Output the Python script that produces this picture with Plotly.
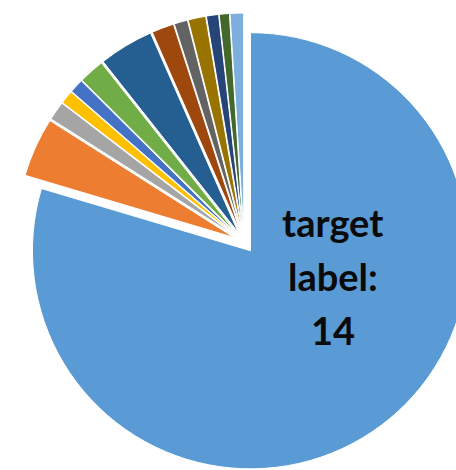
import plotly.graph_objects as go

# Slice data (share of total, clockwise from 12 o'clock)
labels = ["14", "0", "1", "2", "3", "4", "5", "6", "7", "8", "9", "10", "11"]
values = [79.6, 4.4, 1.4, 1.0, 1.05, 1.9, 4.05, 1.65, 1.0, 1.3, 0.9, 0.75, 1.0]
colors = ["#5B9BD5", "#ED7D31", "#A5A5A5", "#FFC000", "#4472C4", "#70AD47",
          "#255E91", "#9E480E", "#636363", "#997300", "#264478", "#43682B",
          "#7CAFDD"]
text_lines = ["target", "label:", "14"]

W, H = 473, 471

fig = go.Figure(go.Pie(
    labels=labels,
    values=values,
    sort=False,
    direction="clockwise",
    rotation=0,
    pull=0.05,
    marker=dict(colors=colors, line=dict(color="white", width=1)),
    textinfo="none",
    hoverinfo="label+percent",
    showlegend=False,
    domain=dict(x=[15 / W, 1], y=[0, 1 - 13 / H]),
))

line_centers_px = [222, 276, 330]
for t, yp in zip(text_lines, line_centers_px):
    fig.add_annotation(
        text=f"<b>{t}</b>", x=332.5 / W, y=1 - yp / H,
        xref="paper", yref="paper", xanchor="center", yanchor="middle",
        showarrow=False, font=dict(family="Lato", size=38, color="#0a0a0a"),
    )

fig.update_layout(
    width=W, height=H,
    margin=dict(l=0, r=0, t=0, b=0),
    paper_bgcolor="white",
    plot_bgcolor="white",
)

fig.write_html(
    "out.html",
    config={"displayModeBar": False},
    post_script="document.body.style.margin='0';"
                "document.body.style.overflow='hidden';"
                "document.documentElement.style.overflow='hidden';",
)
